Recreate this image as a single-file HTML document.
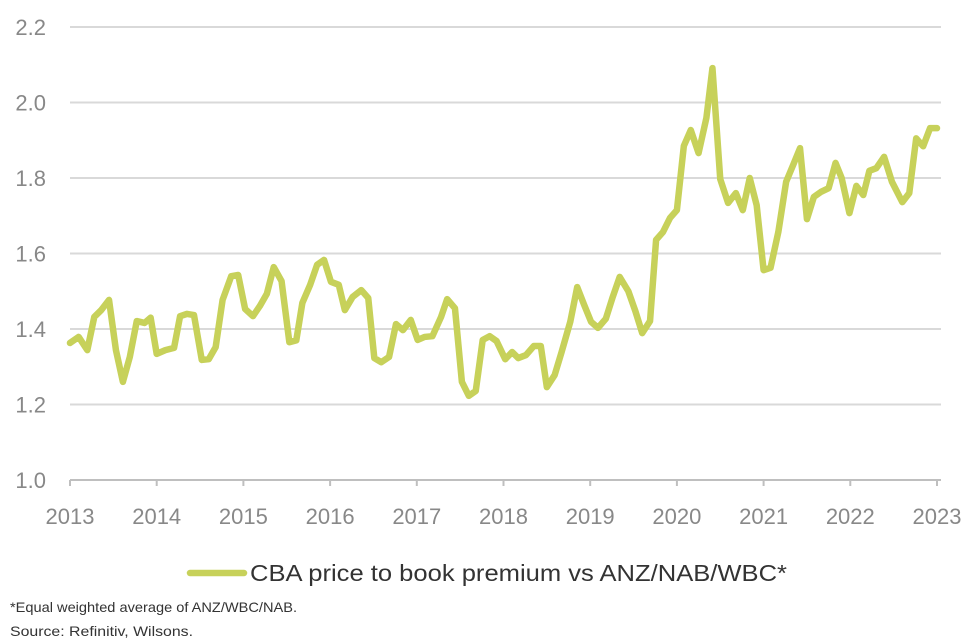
<!DOCTYPE html>
<html><head><meta charset="utf-8"><style>
body{margin:0;background:#fff;font-family:"Liberation Sans",sans-serif;}
svg{display:block}
</style></head><body>
<svg width="973" height="644" id="c"></svg>
<script>
const dates=[2013.0,2013.1,2013.2,2013.28,2013.36,2013.45,2013.53,2013.61,2013.69,2013.77,2013.86,2013.93,2014.0,2014.1,2014.2,2014.27,2014.35,2014.43,2014.52,2014.6,2014.68,2014.76,2014.86,2014.94,2015.02,2015.11,2015.19,2015.27,2015.35,2015.44,2015.53,2015.61,2015.68,2015.77,2015.85,2015.93,2016.01,2016.1,2016.17,2016.26,2016.36,2016.44,2016.51,2016.59,2016.68,2016.76,2016.84,2016.93,2017.01,2017.09,2017.18,2017.28,2017.35,2017.44,2017.52,2017.6,2017.68,2017.76,2017.84,2017.92,2018.02,2018.1,2018.17,2018.26,2018.35,2018.43,2018.5,2018.59,2018.67,2018.77,2018.85,2018.93,2019.01,2019.09,2019.18,2019.26,2019.34,2019.44,2019.52,2019.6,2019.69,2019.76,2019.84,2019.92,2020.0,2020.08,2020.16,2020.25,2020.34,2020.41,2020.5,2020.59,2020.68,2020.76,2020.84,2020.92,2021.0,2021.08,2021.17,2021.26,2021.34,2021.42,2021.5,2021.58,2021.66,2021.75,2021.83,2021.9,2021.99,2022.07,2022.15,2022.22,2022.3,2022.39,2022.48,2022.6,2022.68,2022.76,2022.84,2022.92,2023.0];
const values=[1.363,1.379,1.344,1.432,1.45,1.477,1.344,1.26,1.326,1.421,1.416,1.43,1.334,1.344,1.35,1.434,1.44,1.437,1.318,1.32,1.352,1.477,1.54,1.543,1.453,1.434,1.461,1.493,1.564,1.527,1.365,1.37,1.469,1.517,1.57,1.583,1.525,1.517,1.45,1.485,1.503,1.482,1.323,1.312,1.326,1.413,1.397,1.424,1.371,1.379,1.381,1.432,1.479,1.455,1.26,1.223,1.236,1.371,1.381,1.368,1.32,1.339,1.323,1.331,1.355,1.355,1.246,1.278,1.339,1.419,1.511,1.464,1.419,1.403,1.427,1.485,1.538,1.5,1.448,1.389,1.421,1.636,1.657,1.694,1.715,1.885,1.927,1.866,1.959,2.091,1.797,1.734,1.76,1.715,1.8,1.728,1.556,1.562,1.657,1.79,1.834,1.879,1.691,1.75,1.763,1.773,1.84,1.8,1.707,1.779,1.755,1.819,1.826,1.856,1.79,1.736,1.76,1.905,1.884,1.932,1.932];
const yTicks=[1.0,1.2,1.4,1.6,1.8,2.0,2.2];
const xTicks=[2013,2014,2015,2016,2017,2018,2019,2020,2021,2022,2023];
const NS="http://www.w3.org/2000/svg",svg=document.getElementById('c');
const X=v=>70+(v-2013)*86.7, Y=v=>480-(v-1)*377.5;
function el(t,a,txt){const e=document.createElementNS(NS,t);for(const k in a)e.setAttribute(k,a[k]);if(txt!=null)e.textContent=txt;svg.appendChild(e);return e;}
yTicks.forEach(t=>{
 if(t>1.0){const g=el('line',{x1:70,x2:941,y1:Y(t),y2:Y(t),stroke:'#d9d9d9','stroke-width':2});
 
 }
 const l=el('text',{x:46,y:Y(t)+8,'text-anchor':'end','font-size':22,fill:'#888'},t.toFixed(1));
 
 
});
const ax=el('line',{x1:70,x2:941,y1:480,y2:480,stroke:'#bfbfbf','stroke-width':2});


xTicks.forEach(t=>{
 const tk=el('line',{x1:X(t),x2:X(t),y1:480,y2:486,stroke:'#bfbfbf','stroke-width':2});
 
 
 const l=el('text',{x:X(t),y:524,'text-anchor':'middle','font-size':22,fill:'#888'},t);
 
 
});
const p=el('polyline',{points:dates.map((d,i)=>X(d)+','+Y(values[i])).join(' '),fill:'none',stroke:'#c7d15a','stroke-width':6.5,'stroke-linejoin':'round','stroke-linecap':'round'});


const ll=el('line',{x1:190,x2:244,y1:573,y2:573,stroke:'#c7d15a','stroke-width':6.5,'stroke-linecap':'round'});


const lt=el('text',{x:250,y:581,'font-size':23,fill:'#333',textLength:537,lengthAdjust:'spacingAndGlyphs'},'CBA price to book premium vs ANZ/NAB/WBC*');


const f1=el('text',{x:10,y:612,'font-size':14,fill:'#333',textLength:287,lengthAdjust:'spacingAndGlyphs'},'*Equal weighted average of ANZ/WBC/NAB.');


const f2=el('text',{x:10,y:636,'font-size':14,fill:'#333',textLength:183,lengthAdjust:'spacingAndGlyphs'},'Source: Refinitiv, Wilsons.');


</script>
</body></html>
